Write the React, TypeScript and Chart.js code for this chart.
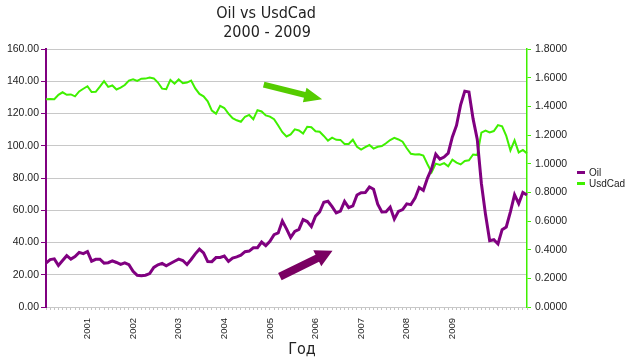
import React, { useEffect, useRef } from "react";
import { Chart, registerables } from "chart.js";

Chart.register(...registerables);

// ---- Data (monthly, Jan 2000 .. Sep 2009) ----
const years = ["2000", "2001", "2002", "2003", "2004", "2005", "2006", "2007", "2008", "2009"];
const monthCodes = ["01", "02", "03", "04", "05", "06", "07", "08", "09", "10", "11", "12"];
const lastMonthCount = 9; // 2009 runs to September

const oil = [
  27.26, 29.37, 29.84, 25.72, 28.79, 31.82, 29.7, 31.26, 33.88, 33.11, 34.42, 28.44,
  29.59, 29.61, 27.24, 27.49, 28.63, 27.6, 26.43, 27.37, 26.2, 22.17, 19.64, 19.39,
  19.72, 20.72, 24.53, 26.18, 27.04, 25.52, 26.97, 28.39, 29.66, 28.84, 26.35, 29.46,
  32.95, 35.83, 33.51, 28.17, 28.11, 30.66, 30.76, 31.57, 28.31, 30.34, 31.11, 32.13,
  34.31, 34.69, 36.74, 36.75, 40.28, 38.03, 40.78, 44.9, 45.94, 53.28, 48.47, 43.15,
  46.84, 48.15, 54.19, 52.98, 49.83, 56.35, 59.0, 64.99, 65.59, 62.26, 58.32, 59.41,
  65.49, 61.63, 62.69, 69.44, 70.84, 70.95, 74.41, 73.04, 63.8, 58.89, 59.08, 61.96,
  54.51, 59.28, 60.44, 63.98, 63.46, 67.49, 74.12, 72.36, 79.92, 85.8, 94.77, 91.69,
  92.97, 95.39, 105.45, 112.58, 125.4, 133.88, 133.37, 116.67, 104.11, 76.61, 57.31, 41.12,
  41.71, 39.09, 47.94, 49.65, 59.03, 69.64, 64.15, 71.05, 69.41,
];

const usdCad = [
  1.4497, 1.451, 1.4494, 1.4806, 1.498, 1.4806, 1.483, 1.47, 1.504, 1.5226, 1.54, 1.4995,
  1.501, 1.537, 1.576, 1.5356, 1.5456, 1.5175, 1.5305, 1.5486, 1.58, 1.588, 1.5771, 1.5925,
  1.5935, 1.601, 1.5949, 1.5659, 1.5236, 1.5196, 1.5843, 1.5578, 1.5874, 1.5612, 1.566, 1.5796,
  1.5249, 1.4865, 1.47, 1.4355, 1.37, 1.3489, 1.403, 1.3885, 1.3496, 1.3176, 1.3025, 1.2924,
  1.3275, 1.3399, 1.31, 1.3732, 1.364, 1.337, 1.3285, 1.3097, 1.2658, 1.2192, 1.1896, 1.2036,
  1.2396, 1.2319, 1.21, 1.2572, 1.254, 1.2261, 1.223, 1.1935, 1.161, 1.1812, 1.166, 1.1659,
  1.1378, 1.1373, 1.1671, 1.1178, 1.0976, 1.115, 1.13, 1.1054, 1.1178, 1.1226, 1.1425, 1.1652,
  1.1798, 1.1689, 1.1532, 1.1075, 1.0687, 1.0634, 1.0661, 1.0566, 0.9959, 0.94, 1.0001, 0.9913,
  1.0036, 0.9814, 1.0273, 1.0071, 0.9947, 1.0186, 1.0236, 1.0637, 1.0599, 1.2162, 1.231, 1.218,
  1.2276, 1.269, 1.2602, 1.1934, 1.0928, 1.1627, 1.0785, 1.0955, 1.0717,
];

// x-axis year labels and the category positions where they are shown
const yearTickLabels = ["2001", "2002", "2003", "2004", "2005", "2006", "2007", "2008", "2009"];
const yearTickIndex = [10, 21, 32, 43, 54, 65, 76, 87, 98];

const oilTicks = { min: 0, max: 160, step: 20 };
const usdTicks = { min: 0, max: 1.8, step: 0.2 };

const titleLines = ["Oil vs UsdCad", "2000 - 2009"];
const xTitle = "Год";
const seriesNames = ["Oil", "UsdCad"];

// trend arrows in data coordinates: [fromIndex, fromOilValue, toIndex, toOilValue]
const arrowGreen = [52.5, 137.9, 66.6, 128.8];
const arrowPurple = [56.4, 18.8, 69.1, 34.9];

// ---- Styles ----
const PURPLE = "#800080";
const GREEN = "#3ff000";
const GREEN_ARROW = "#55cc00";
const PURPLE_ARROW = "#7a0062";
const GRID = "#c8c8c8";
const TEXT = "#222222";
const NARROW = "'Liberation Sans Narrow', 'DejaVu Sans Condensed', 'Liberation Sans', sans-serif";
const SANS = "'Liberation Sans', Arial, sans-serif";

const categories: string[] = [];
years.forEach((y, yi) => {
  const n = yi === years.length - 1 ? lastMonthCount : 12;
  for (let m = 0; m < n; m++) categories.push(`${y}-${monthCodes[m]}`);
});

function drawArrow(
  ctx: CanvasRenderingContext2D,
  x1: number, y1: number, x2: number, y2: number,
  shaft: number, headLen: number, headW: number, color: string
) {
  const dx = x2 - x1, dy = y2 - y1;
  const len = Math.hypot(dx, dy);
  const ux = dx / len, uy = dy / len;
  const nx = -uy, ny = ux;
  const bx = x2 - ux * headLen, by = y2 - uy * headLen;
  ctx.save();
  ctx.fillStyle = color;
  ctx.beginPath();
  ctx.moveTo(x1 + nx * shaft / 2, y1 + ny * shaft / 2);
  ctx.lineTo(bx + nx * shaft / 2, by + ny * shaft / 2);
  ctx.lineTo(bx + nx * headW / 2, by + ny * headW / 2);
  ctx.lineTo(x2, y2);
  ctx.lineTo(bx - nx * headW / 2, by - ny * headW / 2);
  ctx.lineTo(bx - nx * shaft / 2, by - ny * shaft / 2);
  ctx.lineTo(x1 - nx * shaft / 2, y1 - ny * shaft / 2);
  ctx.closePath();
  ctx.fill();
  ctx.restore();
}

const decorPlugin = {
  id: "decor",
  afterDraw(chart: any) {
    const { ctx, chartArea, scales } = chart;
    const xs = scales.x, ys = scales.yOil;
    ctx.save();
    // Title
    ctx.fillStyle = TEXT;
    ctx.textAlign = "center";
    ctx.textBaseline = "alphabetic";
    ctx.font = `16px ${NARROW}`;
    ctx.fillText(titleLines[0], 266, 18);
    ctx.fillText(titleLines[1], 267, 36.5);
    // X axis title
    ctx.font = `16px ${NARROW}`;
    ctx.fillText(xTitle, 302, 354);
    // Legend
    const colors = [PURPLE, GREEN];
    const midY = (chartArea.top + chartArea.bottom) / 2;
    const lx = chartArea.right + 50;
    ctx.font = `10px ${SANS}`;
    ctx.textAlign = "left";
    ctx.textBaseline = "middle";
    seriesNames.forEach((name, i) => {
      const y = midY - 5.5 + i * 11;
      ctx.fillStyle = colors[i];
      ctx.fillRect(lx, y - 1.5, 8, 3);
      ctx.fillStyle = TEXT;
      ctx.fillText(name, lx + 12, y + 0.5);
    });
    ctx.restore();
    // Arrows
    const toPx = (a: number[]) => [
      xs.getPixelForValue(a[0]), ys.getPixelForValue(a[1]),
      xs.getPixelForValue(a[2]), ys.getPixelForValue(a[3]),
    ];
    const g = toPx(arrowGreen);
    drawArrow(ctx, g[0], g[1], g[2], g[3], 6, 18, 15, GREEN_ARROW);
    const p = toPx(arrowPurple);
    drawArrow(ctx, p[0], p[1], p[2], p[3], 8, 17, 18, PURPLE_ARROW);
  },
};

export default function App() {
  const canvasRef = useRef<HTMLCanvasElement>(null);

  useEffect(() => {
    if (!canvasRef.current) return;
    const chart = new Chart(canvasRef.current, {
      type: "line",
      data: {
        labels: categories,
        datasets: [
          {
            label: seriesNames[0],
            data: oil,
            yAxisID: "yOil",
            borderColor: PURPLE,
            backgroundColor: PURPLE,
            borderWidth: 3,
            pointRadius: 0,
            tension: 0,
          },
          {
            label: seriesNames[1],
            data: usdCad,
            yAxisID: "yUsd",
            borderColor: GREEN,
            backgroundColor: GREEN,
            borderWidth: 2,
            pointRadius: 0,
            tension: 0,
          },
        ],
      },
      options: {
        animation: false,
        responsive: false,
        maintainAspectRatio: false,
        layout: { padding: { top: 49, right: 0, bottom: 0, left: 0 } },
        plugins: {
          legend: { display: false },
          title: { display: false },
          tooltip: { enabled: false },
        },
        scales: {
          x: {
            type: "category",
            offset: false,
            grid: {
              display: true,
              drawOnChartArea: false,
              drawTicks: true,
              tickLength: 3,
              tickColor: "#c4c4c4",
            },
            border: { display: true, color: GRID },
            ticks: {
              autoSkip: false,
              minRotation: 90,
              maxRotation: 90,
              padding: 8,
              color: TEXT,
              font: { family: SANS, size: 9.5 },
              callback: (_v: any, i: number) => {
                const k = yearTickIndex.indexOf(i);
                return k >= 0 ? yearTickLabels[k] : "";
              },
            },
            afterFit: (s: any) => {
              s.height = 53;
            },
          },
          yOil: {
            type: "linear",
            position: "left",
            min: oilTicks.min,
            max: oilTicks.max,
            ticks: {
              stepSize: oilTicks.step,
              padding: 2,
              color: TEXT,
              font: { family: SANS, size: 10.5 },
              callback: (v: any) => Number(v).toFixed(2),
            },
            grid: { color: GRID, lineWidth: 1, tickColor: PURPLE, tickLength: 5 },
            border: { display: true, color: PURPLE, width: 2 },
            afterFit: (s: any) => {
              s.width = 46;
            },
          },
          yUsd: {
            type: "linear",
            position: "right",
            min: usdTicks.min,
            max: usdTicks.max,
            ticks: {
              stepSize: usdTicks.step,
              padding: 4,
              color: TEXT,
              font: { family: SANS, size: 10.5 },
              callback: (v: any) => Number(v).toFixed(4),
            },
            grid: { drawOnChartArea: false, tickColor: GREEN, tickLength: 4 },
            border: { display: true, color: GREEN, width: 1.5 },
            afterFit: (s: any) => {
              s.width = 113;
            },
          },
        },
      },
      plugins: [decorPlugin],
    });
    return () => chart.destroy();
  }, []);

  return (
    <div style={{ position: "absolute", left: 0, top: 0, width: 640, height: 360, background: "#fff" }}>
      <canvas ref={canvasRef} width={640} height={360} style={{ display: "block" }} />
    </div>
  );
}
